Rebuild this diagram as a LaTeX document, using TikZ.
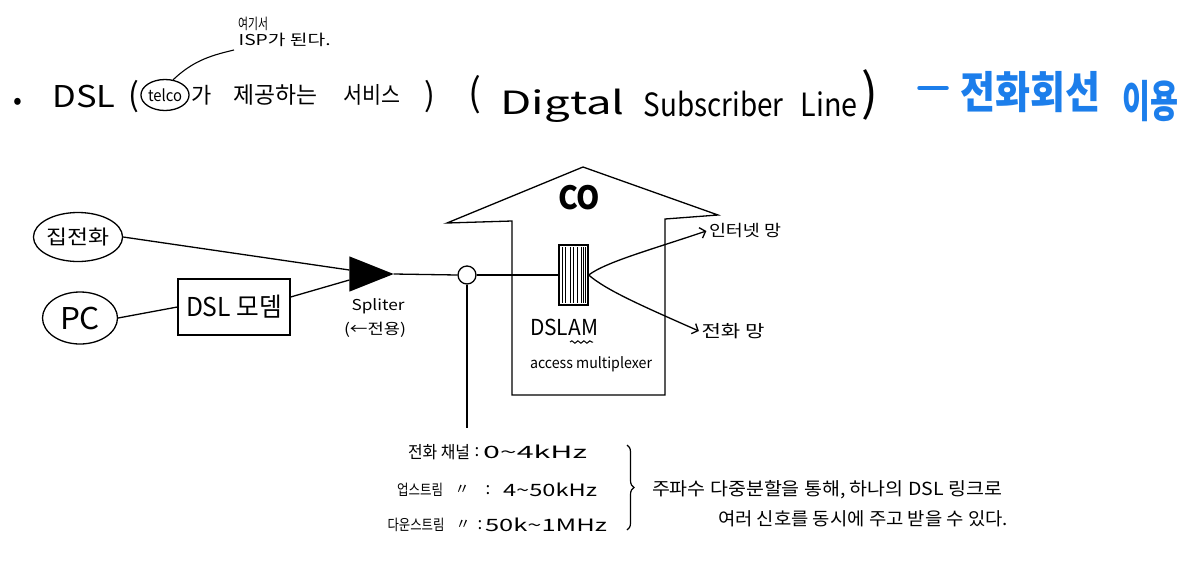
\documentclass[tikz,border=0pt]{standalone}
\usepackage{graphicx}
\usepackage{fontspec}
\setmainfont{Noto Sans CJK KR}
\usetikzlibrary{shapes.geometric,arrows.meta,decorations.pathreplacing,decorations.pathmorphing}
\definecolor{pen}{HTML}{1C7EEB}
\newcommand\fs[1]{\fontsize{#1pt}{#1pt}\selectfont}
\newcommand\hfit[2]{\resizebox{#1pt}{\height}{#2}}
\begin{document}
\begin{tikzpicture}[x=1pt,y=-1pt,line width=1.3pt,
  lbl/.style={inner sep=0pt},
  oval/.style={draw,ellipse,inner sep=0pt},
  barb/.style={-{Straight Barb[length=5pt,width=11pt]}},
  bluetxt/.style={inner sep=0pt,text=pen,font=\bfseries}]
\fill[white] (0,0) rectangle (1196,560);
\useasboundingbox (0,0) rectangle (1196,560);

% ---------- title line ----------
\node[lbl] (bul) at (18,104) {\fs{26}•};
\node[lbl,anchor=base west] (dsl) at (52,107) {\fs{30}\hfit{63}{DSL}};
\node[lbl] (p1) at (134,97) {\fs{32}(};
\node[oval,minimum width=46pt,minimum height=31pt] (telco) at (165,95) {\fs{16}\hfit{34}{telco}};
\node[lbl] (ga) at (202,95) {\fs{22}가};
\node[lbl] (jegong) at (275,95) {\fs{23}\hfit{84}{제공하는}};
\node[lbl] (service) at (372,95) {\fs{23}\hfit{57}{서비스}};
\node[lbl] (p2) at (430,97) {\fs{32})};
\node[lbl] (p3) at (475,95) {\fs{38}(};
\node[lbl,anchor=base west] (digtal) at (500,114) {\fs{32}\hfit{124}{Digtal}};
\node[lbl,anchor=base west] (subs) at (643,116) {\fs{32}\hfit{140}{Subscriber}};
\node[lbl,anchor=base west] (line) at (800,116) {\fs{32}\hfit{57}{Line}};
\node[lbl] (p4) at (870,95) {\fs{50})};

% blue remark
\draw[pen,line width=3.5pt,line cap=round] (919,88) -- (947,88);
\node[bluetxt] (hoeseon) at (1030,92) {\fs{44}\hfit{140}{전화회선}};
\node[bluetxt] (iyong) at (1150,101) {\fs{44}\hfit{56}{이용}};

% annotation on telco
\node[lbl] (note1) at (253,24) {\fs{15}\hfit{30}{여기서}};
\node[lbl,anchor=west] (note2) at (238,40) {\fs{15}\hfit{92}{ISP가 된다.}};
\coordinate (annend) at (234,50);
\draw[line width=1.1pt] (telco.62) .. controls (192,62) and (208,56) .. (annend);

% ---------- left side ----------
\node[oval,minimum width=80pt,minimum height=49pt] (home) at (78,237) {\fs{20}\hfit{63}{집전화}};
\node[oval,minimum width=75pt,minimum height=52pt] (pc) at (80,318) {\fs{30}\hfit{40}{PC}};
\node[draw,inner sep=0pt,minimum width=112pt,minimum height=56pt] (modem) at (234,307) {\fs{26}\hfit{96}{DSL 모뎀}};

% splitter
\node[inner sep=0pt,minimum width=43pt,minimum height=34pt] (spl) at (371.5,274) {};
\fill (spl.north west) -- (spl.east) -- (spl.south west) -- cycle;
\node[lbl] (spltxt) at (378,306) {\fs{15}\hfit{53}{Spliter}};
\node[lbl] (splnote) at (375,330) {\fs{15}\hfit{62}{(←전용)}};

\draw (home.east) -- ([yshift=4pt]spl.west);
\draw (pc.east) -- (modem.west |- 0,307);
\draw (modem.east |- 0,297) -- ([yshift=-6pt]spl.west);

% junction
\node[draw,circle,minimum size=18pt,inner sep=0pt] (jn) at (467,275) {};
\coordinate (jnend) at (467,428);
\draw (spl.east) -- (jn.west);
\draw (jn.south) -- (jnend);

% ---------- central office ----------
\draw[line join=miter] (583,167) -- (718,215) -- (665,219) -- (665,395) -- (512,395) -- (512,221) -- (447,223) -- cycle;
\node[lbl,font=\bfseries] (co) at (579,198) {\fs{32}\hfit{42}{CO}};

\node[draw,inner sep=0pt,minimum width=29pt,minimum height=60pt] (dslam) at (573.5,275) {};
\foreach \xx in {562,565,570.5,573.5,577,581,583.5,585.7}
  \draw[line width=0.8pt] (\xx,247) -- (\xx,303);
\draw (jn.east) -- (dslam.west);

\node[lbl] (dslamtxt) at (564,327) {\fs{22}\hfit{68}{DSLAM}};
\draw[line width=1pt,decorate,decoration={snake,amplitude=1.2pt,segment length=6pt}] (570,342) -- (593,342);
\node[lbl] (amux) at (591,364) {\fs{15}\hfit{122}{access multiplexer}};

\node[inner sep=2pt] (inet) at (745,231) {\fs{16}\hfit{72}{인터넷 망}};
\node[inner sep=2pt] (tel) at (733,331) {\fs{17}\hfit{63}{전화 망}};
\draw[barb] (dslam.east) .. controls (606,262) and (650,250) .. (inet.west);
\draw[barb] (dslam.east) .. controls (606,290) and (640,305) .. (tel.west);

% ---------- frequency table ----------
\node[lbl] (r1a) at (439,452) {\fs{17}\hfit{62}{전화 채널}};
\node[lbl] (r1c) at (477,452) {\fs{17}:};
\node[lbl] (r1v) at (535,452) {\fs{17}\hfit{104}{0\textasciitilde4kHz}};

\node[lbl] (r2a) at (420,490) {\fs{15}\hfit{46}{업스트림}};
\node[lbl] (r2d) at (462,490) {\fs{15}〃};
\node[lbl] (r2c) at (488,490) {\fs{17}:};
\node[lbl] (r2v) at (550,490) {\fs{17}\hfit{94}{4\textasciitilde50kHz}};

\node[lbl] (r3a) at (416,525) {\fs{15}\hfit{57}{다운스트림}};
\node[lbl] (r3d) at (463,525) {\fs{15}〃};
\node[lbl] (r3c) at (480,525) {\fs{17}:};
\node[lbl] (r3v) at (546,525) {\fs{17}\hfit{122}{50k\textasciitilde1MHz}};

\draw[line width=1.2pt,decorate,decoration={brace,amplitude=7pt}] (627,445) -- (627,530);

\node[lbl] (sum1) at (827,490) {\fs{18}\hfit{350}{주파수 다중분할을 통해, 하나의 DSL 링크로}};
\node[lbl] (sum2) at (863,519) {\fs{18}\hfit{290}{여러 신호를 동시에 주고 받을 수 있다.}};
\end{tikzpicture}
\end{document}
